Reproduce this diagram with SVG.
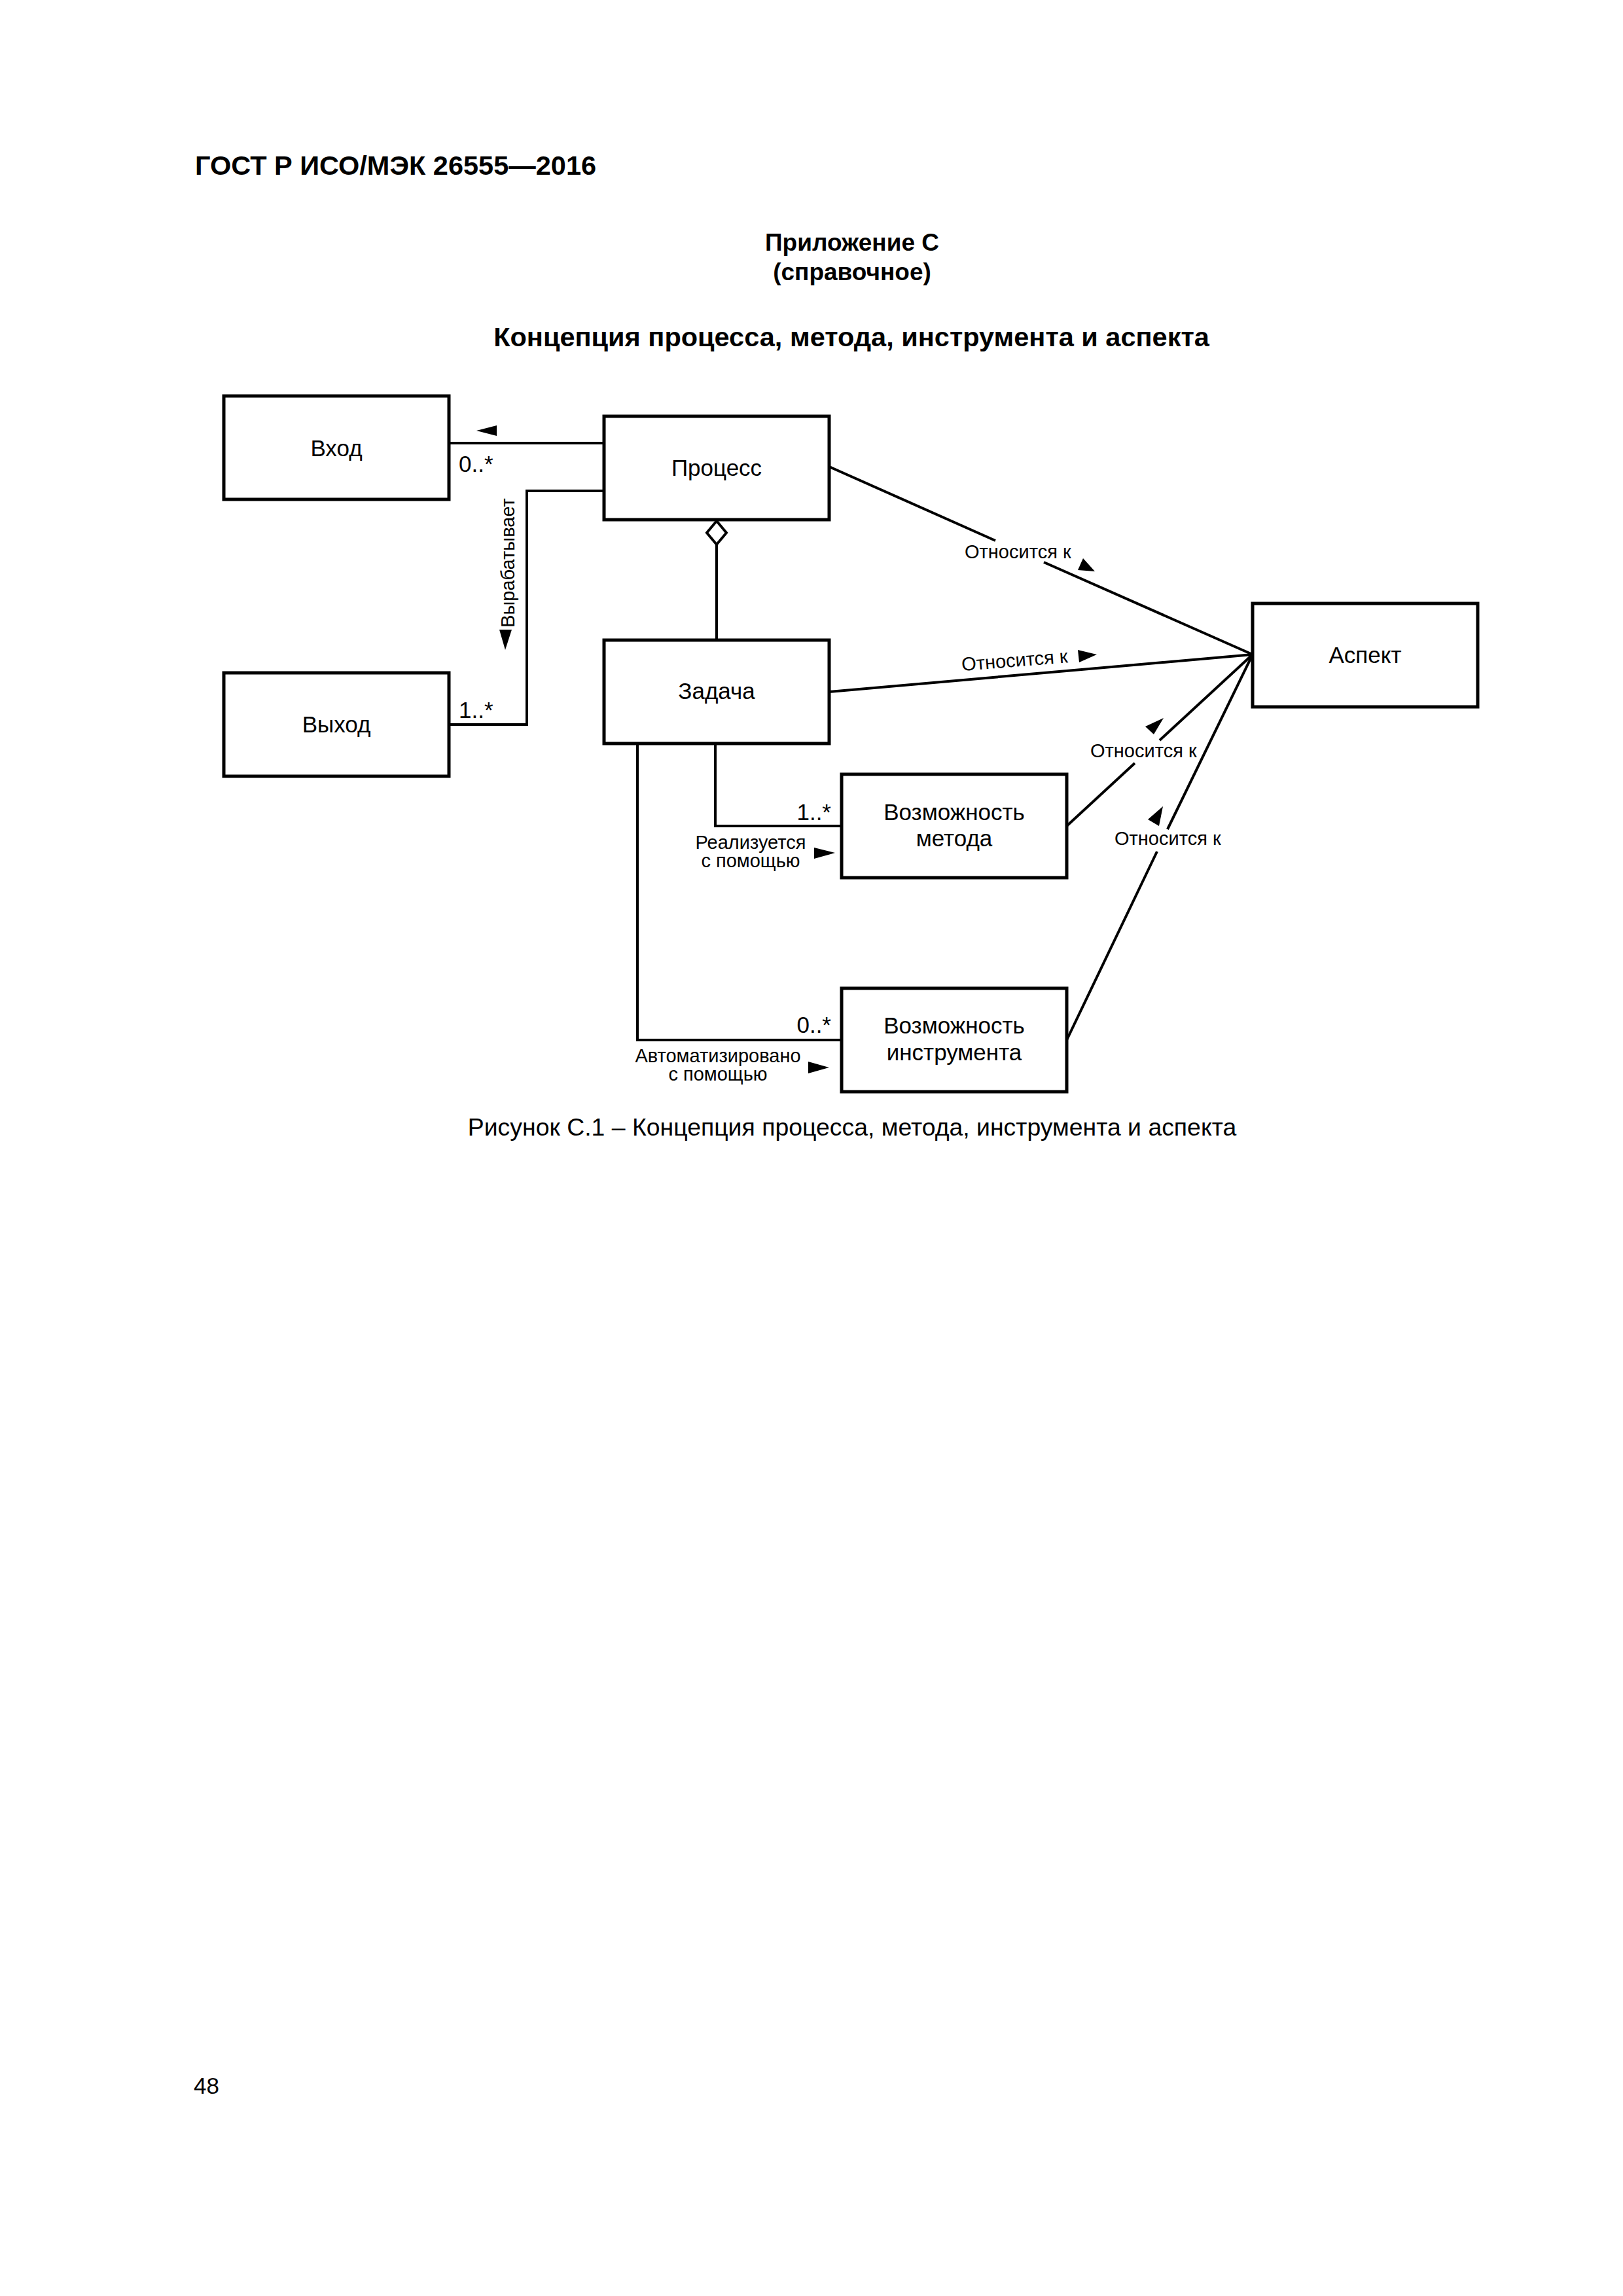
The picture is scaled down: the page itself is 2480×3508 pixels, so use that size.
<svg xmlns="http://www.w3.org/2000/svg" width="2480" height="3508" viewBox="0 0 2480 3508">
<style>
text{font-family:"Liberation Sans",Arial,sans-serif;fill:#000}
.hb{font-size:41.5px;font-weight:bold}
.ap{font-size:37px;font-weight:bold;text-anchor:middle}
.box{fill:#fff;stroke:#000;stroke-width:5}
.bl{font-size:35px;text-anchor:middle}
.m{font-size:35px}
.lb{font-size:29px}
.lc{font-size:29px;text-anchor:middle}
.ln{fill:none;stroke:#000;stroke-width:4}
.ar{fill:#000;stroke:none}
</style>
<rect x="0" y="0" width="2480" height="3508" fill="#fff"/>
<text class="hb" x="298" y="267">ГОСТ Р ИСО/МЭК 26555—2016</text>
<text class="ap" x="1302" y="383">Приложение С</text>
<text class="ap" x="1302" y="428">(справочное)</text>
<text class="hb" x="1301" y="529" text-anchor="middle" font-size="41.8">Концепция процесса, метода, инструмента и аспекта</text>

<g id="connectors">
<line class="ln" x1="686" y1="677" x2="923" y2="677"/>
<polygon class="ar" points="728,658 759,650 759,666"/>
<polyline class="ln" points="923,750 805,750 805,1107 686,1107"/>
<polygon class="ar" points="763,962 782,962 772,993"/>
<polygon points="1095,796 1110,814 1095,832 1080,814" fill="#fff" stroke="#000" stroke-width="4"/>
<line class="ln" x1="1095" y1="832" x2="1095" y2="978"/>
<polyline class="ln" points="1093,1136 1093,1262 1286,1262"/>
<polygon class="ar" points="1244,1295 1276,1303 1244,1312"/>
<polyline class="ln" points="974,1136 974,1589 1286,1589"/>
<polygon class="ar" points="1235,1622 1267,1631 1235,1640"/>
<line class="ln" x1="1267" y1="713" x2="1521" y2="826"/>
<line class="ln" x1="1595" y1="859" x2="1914" y2="1000"/>
<polygon class="ar" points="1673,873 1647,871 1655,853"/>
<line class="ln" x1="1267" y1="1057" x2="1914" y2="1000" stroke-width="5.5"/>
<polygon class="ar" points="1676,1000 1647,993 1649,1012"/>
<line class="ln" x1="1630" y1="1262" x2="1734" y2="1166"/>
<line class="ln" x1="1772" y1="1131" x2="1914" y2="1000"/>
<polygon class="ar" points="1778,1097 1750,1110 1763,1122"/>
<line class="ln" x1="1630" y1="1589" x2="1768" y2="1301"/>
<line class="ln" x1="1784" y1="1267" x2="1914" y2="1000"/>
<polygon class="ar" points="1777,1232 1754,1252 1771,1262"/>
</g>

<g id="labels">
<text class="m" x="701" y="721">0..*</text>
<text class="m" x="701" y="1097">1..*</text>
<text class="lb" transform="translate(786,860) rotate(-90)" text-anchor="middle">Вырабатывает</text>
<text class="lb" x="1474" y="853">Относится к</text>
<text class="lb" transform="translate(1470,1025) rotate(-4.5)">Относится к</text>
<text class="lb" x="1666" y="1157">Относится к</text>
<text class="lb" x="1703" y="1291">Относится к</text>
<text class="m" x="1270" y="1253" text-anchor="end">1..*</text>
<text class="m" x="1270" y="1578" text-anchor="end">0..*</text>
<text class="lc" x="1147" y="1297">Реализуется</text>
<text class="lc" x="1147" y="1325">с помощью</text>
<text class="lc" x="1097" y="1623">Автоматизировано</text>
<text class="lc" x="1097" y="1651">с помощью</text>
</g>

<g id="node-vhod">
<rect class="box" x="342" y="605" width="344" height="158"/>
<text class="bl" x="514" y="697">Вход</text>
</g>
<g id="node-vyhod">
<rect class="box" x="342" y="1028" width="344" height="158"/>
<text class="bl" x="514" y="1119">Выход</text>
</g>
<g id="node-process">
<rect class="box" x="923" y="636" width="344" height="158"/>
<text class="bl" x="1095" y="727">Процесс</text>
</g>
<g id="node-zadacha">
<rect class="box" x="923" y="978" width="344" height="158"/>
<text class="bl" x="1095" y="1068">Задача</text>
</g>
<g id="node-aspekt">
<rect class="box" x="1914" y="922" width="344" height="158"/>
<text class="bl" x="2086" y="1013">Аспект</text>
</g>
<g id="node-metoda">
<rect class="box" x="1286" y="1183" width="344" height="158"/>
<text class="bl" x="1458" y="1253">Возможность</text>
<text class="bl" x="1458" y="1293">метода</text>
</g>
<g id="node-instrumenta">
<rect class="box" x="1286" y="1510" width="344" height="158"/>
<text class="bl" x="1458" y="1579">Возможность</text>
<text class="bl" x="1458" y="1620">инструмента</text>
</g>

<text x="1302" y="1735" font-size="37.4" text-anchor="middle">Рисунок С.1 – Концепция процесса, метода, инструмента и аспекта</text>
<text x="296" y="3199" font-size="35">48</text>
</svg>
